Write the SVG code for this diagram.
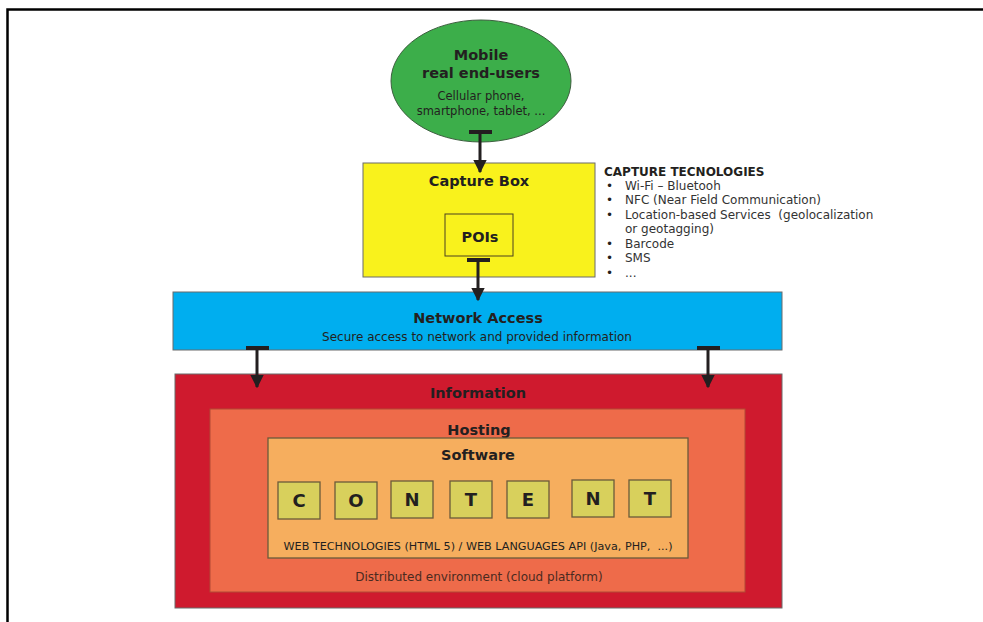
<svg xmlns="http://www.w3.org/2000/svg" width="983" height="622" viewBox="0 0 983 622">
  <style>
    text { font-family: "DejaVu Sans", Verdana, sans-serif; fill: #231f20; }
    .h { font-weight: bold; font-size: 14.5px; text-anchor: middle; }
    .s { font-size: 11.5px; text-anchor: middle; }
    .li { font-size: 12px; fill: #333; }
    .letter { font-weight: bold; font-size: 18px; text-anchor: middle; }
    .box { stroke: #6b6b6b; stroke-width: 1; }
    .tile { fill: #d8d05c; stroke: #6b5a3a; stroke-width: 1.3; }
    .conn { stroke: #231f20; stroke-width: 3; fill: none; }
    .bar { stroke: #231f20; stroke-width: 4; }
  </style>
  <defs>
    <marker id="head" viewBox="0 0 10 10" refX="9" refY="5" markerWidth="4.5" markerHeight="5" orient="auto" markerUnits="strokeWidth">
      <path d="M0,0 L10,5 L0,10 Z" fill="#231f20"/>
    </marker>
  </defs>

  <!-- page frame -->
  <path d="M7.5,622 V9.5 H983" fill="none" stroke="#000" stroke-width="2.5"/>

  <g id="users">
    <ellipse cx="481" cy="81" rx="90" ry="61" fill="#3cae4a" stroke="#3d5f3f" stroke-width="1"/>
    <text class="h" x="481" y="60">Mobile</text>
    <text class="h" x="481" y="78">real end-users</text>
    <text class="s" x="481" y="100">Cellular phone,</text>
    <text class="s" x="481" y="115">smartphone, tablet, ...</text>
  </g>

  <g id="capture-box">
    <rect class="box" x="363" y="163" width="232" height="114" fill="#f9f21c"/>
    <text class="h" x="479" y="186">Capture Box</text>
  </g>

  <g id="pois">
    <rect x="445" y="214" width="68" height="42" fill="#f9f21c" stroke="#4a4020" stroke-width="1"/>
    <text class="h" x="480" y="242">POIs</text>
  </g>

  <g id="capture-technologies">
    <text x="604" y="176" style="font-weight:bold;font-size:12px">CAPTURE TECNOLOGIES</text>
    <g class="li">
      <text x="606" y="190">•</text><text class="li" x="625" y="190">Wi-Fi – Bluetooh</text>
      <text x="606" y="204">•</text><text class="li" x="625" y="204">NFC (Near Field Communication)</text>
      <text x="606" y="219">•</text><text class="li" x="625" y="219" xml:space="preserve">Location-based Services  (geolocalization</text>
      <text class="li" x="625" y="233">or geotagging)</text>
      <text x="606" y="248">•</text><text class="li" x="625" y="248">Barcode</text>
      <text x="606" y="262">•</text><text class="li" x="625" y="262">SMS</text>
      <text x="606" y="277">•</text><text class="li" x="625" y="277">...</text>
    </g>
  </g>

  <g id="network-access">
    <rect class="box" x="173" y="292" width="609" height="58" fill="#00aeef"/>
    <text class="h" x="478" y="323">Network Access</text>
    <text class="s" x="477" y="341" style="font-size:12px">Secure access to network and provided information</text>
  </g>

  <g id="information">
    <rect class="box" x="175" y="374" width="607" height="234" fill="#cf1a2e"/>
    <text class="h" x="478" y="398">Information</text>
  </g>

  <g id="hosting">
    <rect x="210" y="409" width="535" height="183" fill="#ee6b4a" stroke="#b14a35" stroke-width="1"/>
    <text class="h" x="479" y="435">Hosting</text>
    <text class="s" x="479" y="581" style="fill:#4a2a20;font-size:12px">Distributed environment (cloud platform)</text>
  </g>

  <g id="software">
    <rect x="268" y="438" width="420" height="120" fill="#f6ae5e" stroke="#6b5a3a" stroke-width="1.3"/>
    <text class="h" x="478" y="460">Software</text>
    <text class="s" x="478" y="550" style="font-size:10px" textLength="389" lengthAdjust="spacingAndGlyphs" xml:space="preserve">WEB TECHNOLOGIES (HTML 5) / WEB LANGUAGES API (Java, PHP,  ...)</text>
  </g>

  <g id="content">
    <rect class="tile" x="278" y="482" width="42" height="37"/>
    <text class="letter" x="299" y="507">C</text>
    <rect class="tile" x="335" y="482" width="42" height="37"/>
    <text class="letter" x="356" y="507">O</text>
    <rect class="tile" x="391" y="481" width="42" height="37"/>
    <text class="letter" x="412" y="506">N</text>
    <rect class="tile" x="450" y="481" width="42" height="37"/>
    <text class="letter" x="471" y="506">T</text>
    <rect class="tile" x="507" y="481" width="42" height="37"/>
    <text class="letter" x="528" y="506">E</text>
    <rect class="tile" x="572" y="480" width="42" height="37"/>
    <text class="letter" x="593" y="505">N</text>
    <rect class="tile" x="629" y="480" width="42" height="37"/>
    <text class="letter" x="650" y="505">T</text>
  </g>

  <g id="connectors">
    <!-- users -> capture box -->
    <line class="bar" x1="469" y1="132" x2="492" y2="132"/>
    <line class="conn" x1="480" y1="132" x2="480" y2="172" marker-end="url(#head)"/>
    <!-- POIs -> network access -->
    <line class="bar" x1="467" y1="260" x2="490" y2="260"/>
    <line class="conn" x1="478" y1="260" x2="478" y2="300" marker-end="url(#head)"/>
    <!-- network access -> information (left) -->
    <line class="bar" x1="246" y1="348" x2="269" y2="348"/>
    <line class="conn" x1="257" y1="348" x2="257" y2="387" marker-end="url(#head)"/>
    <!-- network access -> information (right) -->
    <line class="bar" x1="697" y1="348" x2="720" y2="348"/>
    <line class="conn" x1="708" y1="348" x2="708" y2="387" marker-end="url(#head)"/>
  </g>
</svg>
